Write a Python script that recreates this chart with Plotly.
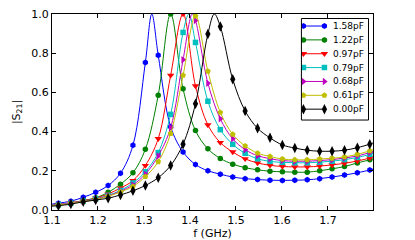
import plotly.graph_objects as go

# ---- data ----
freq = [1.114, 1.141, 1.168, 1.195, 1.222, 1.249, 1.276, 1.303, 1.331, 1.358,
        1.385, 1.412, 1.439, 1.466, 1.493, 1.520, 1.547, 1.574, 1.601, 1.628,
        1.655, 1.682, 1.709, 1.736, 1.764, 1.791]

labels = ["1.58pF", "1.22pF", "0.97pF", "0.79pF", "0.68pF", "0.61pF", "0.00pF"]

s_158 = [0.035, 0.045, 0.065, 0.090, 0.125, 0.188, 0.330, 0.753, 0.790, 0.425,
         0.296, 0.232, 0.200, 0.183, 0.168, 0.160, 0.155, 0.152, 0.151, 0.152,
         0.154, 0.160, 0.168, 0.178, 0.190, 0.204]
s_122 = [0.025, 0.035, 0.048, 0.062, 0.090, 0.132, 0.190, 0.310, 0.586, 1.000,
         0.618, 0.405, 0.312, 0.263, 0.234, 0.216, 0.205, 0.198, 0.195, 0.193,
         0.193, 0.200, 0.210, 0.222, 0.240, 0.256]
s_097 = [0.028, 0.037, 0.047, 0.060, 0.082, 0.112, 0.150, 0.227, 0.364, 0.687,
         1.000, 0.633, 0.434, 0.344, 0.296, 0.261, 0.240, 0.228, 0.222, 0.220,
         0.220, 0.224, 0.230, 0.238, 0.250, 0.265]
s_079 = [0.027, 0.035, 0.045, 0.057, 0.075, 0.100, 0.138, 0.195, 0.293, 0.488,
         0.906, 0.855, 0.555, 0.410, 0.335, 0.289, 0.261, 0.248, 0.243, 0.241,
         0.241, 0.244, 0.249, 0.257, 0.268, 0.284]
s_068 = [0.026, 0.034, 0.044, 0.055, 0.072, 0.096, 0.128, 0.183, 0.276, 0.420,
         0.767, 0.967, 0.647, 0.465, 0.363, 0.308, 0.277, 0.262, 0.252, 0.249,
         0.249, 0.252, 0.257, 0.265, 0.276, 0.293]
s_061 = [0.025, 0.033, 0.043, 0.053, 0.070, 0.092, 0.120, 0.170, 0.246, 0.390,
         0.687, 0.990, 0.708, 0.498, 0.386, 0.327, 0.290, 0.273, 0.260, 0.256,
         0.256, 0.260, 0.264, 0.271, 0.284, 0.302]
s_000 = [0.022, 0.030, 0.042, 0.051, 0.060, 0.077, 0.098, 0.125, 0.165, 0.227,
         0.336, 0.542, 0.898, 0.936, 0.667, 0.505, 0.417, 0.368, 0.332, 0.316,
         0.305, 0.300, 0.300, 0.305, 0.318, 0.336]

# extra points of the continuous curves (resonance peaks, curve ends)
peak_f = [1.317, None, None, 1.3975, 1.405, None, 1.453]
peak_y = [1.0, None, None, 1.0, 1.0, None, 1.0]
f_left, f_right = 1.1, 1.798
left_y = [0.030, 0.022, 0.025, 0.024, 0.023, 0.022, 0.020]
right_y = [0.208, 0.260, 0.270, 0.289, 0.298, 0.307, 0.342]

x_ticks = [1.1, 1.2, 1.3, 1.4, 1.5, 1.6, 1.7]
y_ticks = [0.0, 0.2, 0.4, 0.6, 0.8, 1.0]

# ---- styles ----
series = [s_158, s_122, s_097, s_079, s_068, s_061, s_000]
colors = ["#0000ff", "#008000", "#ff0000", "#00bfbf", "#bf00bf", "#bfbf00", "#000000"]
symbols = ["hexagon", "circle", "triangle-down", "square", "triangle-right",
           "pentagon", "diamond-tall"]
sizes = [6, 5.5, 6.5, 5.5, 6.5, 6, 7.5]
FONT = "DejaVu Sans"

fig = go.Figure()
for i, ys in enumerate(series):
    pts = list(zip(freq, ys)) + [(f_left, left_y[i]), (f_right, right_y[i])]
    if peak_f[i] is not None:
        pts.append((peak_f[i], peak_y[i]))
    pts.sort()
    fig.add_trace(go.Scatter(
        x=[p[0] for p in pts], y=[p[1] for p in pts], mode="lines",
        line=dict(color=colors[i], width=1, shape="spline"),
        showlegend=False, hoverinfo="skip"))
    fig.add_trace(go.Scatter(
        x=freq, y=ys, mode="markers", name=labels[i],
        marker=dict(symbol=symbols[i], size=sizes[i], color=colors[i], line=dict(width=0)),
        showlegend=False))

# ---- hand-built legend (matplotlib style: line with a marker at each end) ----
leg_x0, leg_x1 = 0.777, 0.986
leg_y0, leg_y1 = 0.459, 0.977
row_top, row_step = 0.926, 0.1365
for i, lab in enumerate(labels):
    ry = row_top - row_step * i
    fig.add_trace(go.Scatter(
        x=[0.03, 0.343], y=[ry, ry], mode="lines+markers",
        xaxis="x2", yaxis="y2",
        line=dict(color=colors[i], width=1),
        marker=dict(symbol=symbols[i], size=sizes[i], color=colors[i], line=dict(width=0)),
        showlegend=False, hoverinfo="skip"))
    fig.add_annotation(x=0.45, y=ry, xref="x2", yref="y2", text=lab,
                       showarrow=False, xanchor="left", yanchor="middle",
                       borderpad=0,
                       font=dict(family=FONT, size=9, color="black"))
fig.add_shape(type="rect", xref="paper", yref="paper",
              x0=leg_x0, x1=leg_x1, y0=leg_y0, y1=leg_y1,
              line=dict(color="black", width=1), layer="above")

axis_common = dict(showline=True, linecolor="black", linewidth=1, mirror="ticks",
                   ticks="inside", ticklen=4, tickwidth=1, tickcolor="black",
                   showgrid=False, zeroline=False, automargin=False,
                   ticklabeloverflow="allow",
                   tickfont=dict(family=FONT, size=11, color="black"))

# page body has an 8px margin, so the figure is drawn 8px smaller and the
# plot-area margins are reduced by that offset
fig.update_layout(
    width=407, height=232,
    margin=dict(l=44, r=42, t=6, b=30, autoexpand=False),
    paper_bgcolor="white", plot_bgcolor="white",
    showlegend=False,
    xaxis=dict(range=[1.1, 1.798], tickvals=x_ticks,
               ticktext=[f"{v:.1f}" for v in x_ticks],
               title=dict(text="f (GHz)", standoff=3,
                          font=dict(family=FONT, size=11, color="black")),
               **axis_common),
    yaxis=dict(range=[0, 1], tickvals=y_ticks,
               ticktext=[f"{v:.1f}" for v in y_ticks],
               title=dict(text="|S<sub>21</sub>|", standoff=8,
                          font=dict(family=FONT, size=11, color="black")),
               **axis_common),
    xaxis2=dict(domain=[leg_x0, leg_x1], anchor="y2", range=[0, 1], visible=False,
                fixedrange=True, automargin=False),
    yaxis2=dict(domain=[leg_y0, leg_y1], anchor="x2", range=[0, 1], visible=False,
                fixedrange=True, automargin=False),
)

fig.write_html("out.html")
